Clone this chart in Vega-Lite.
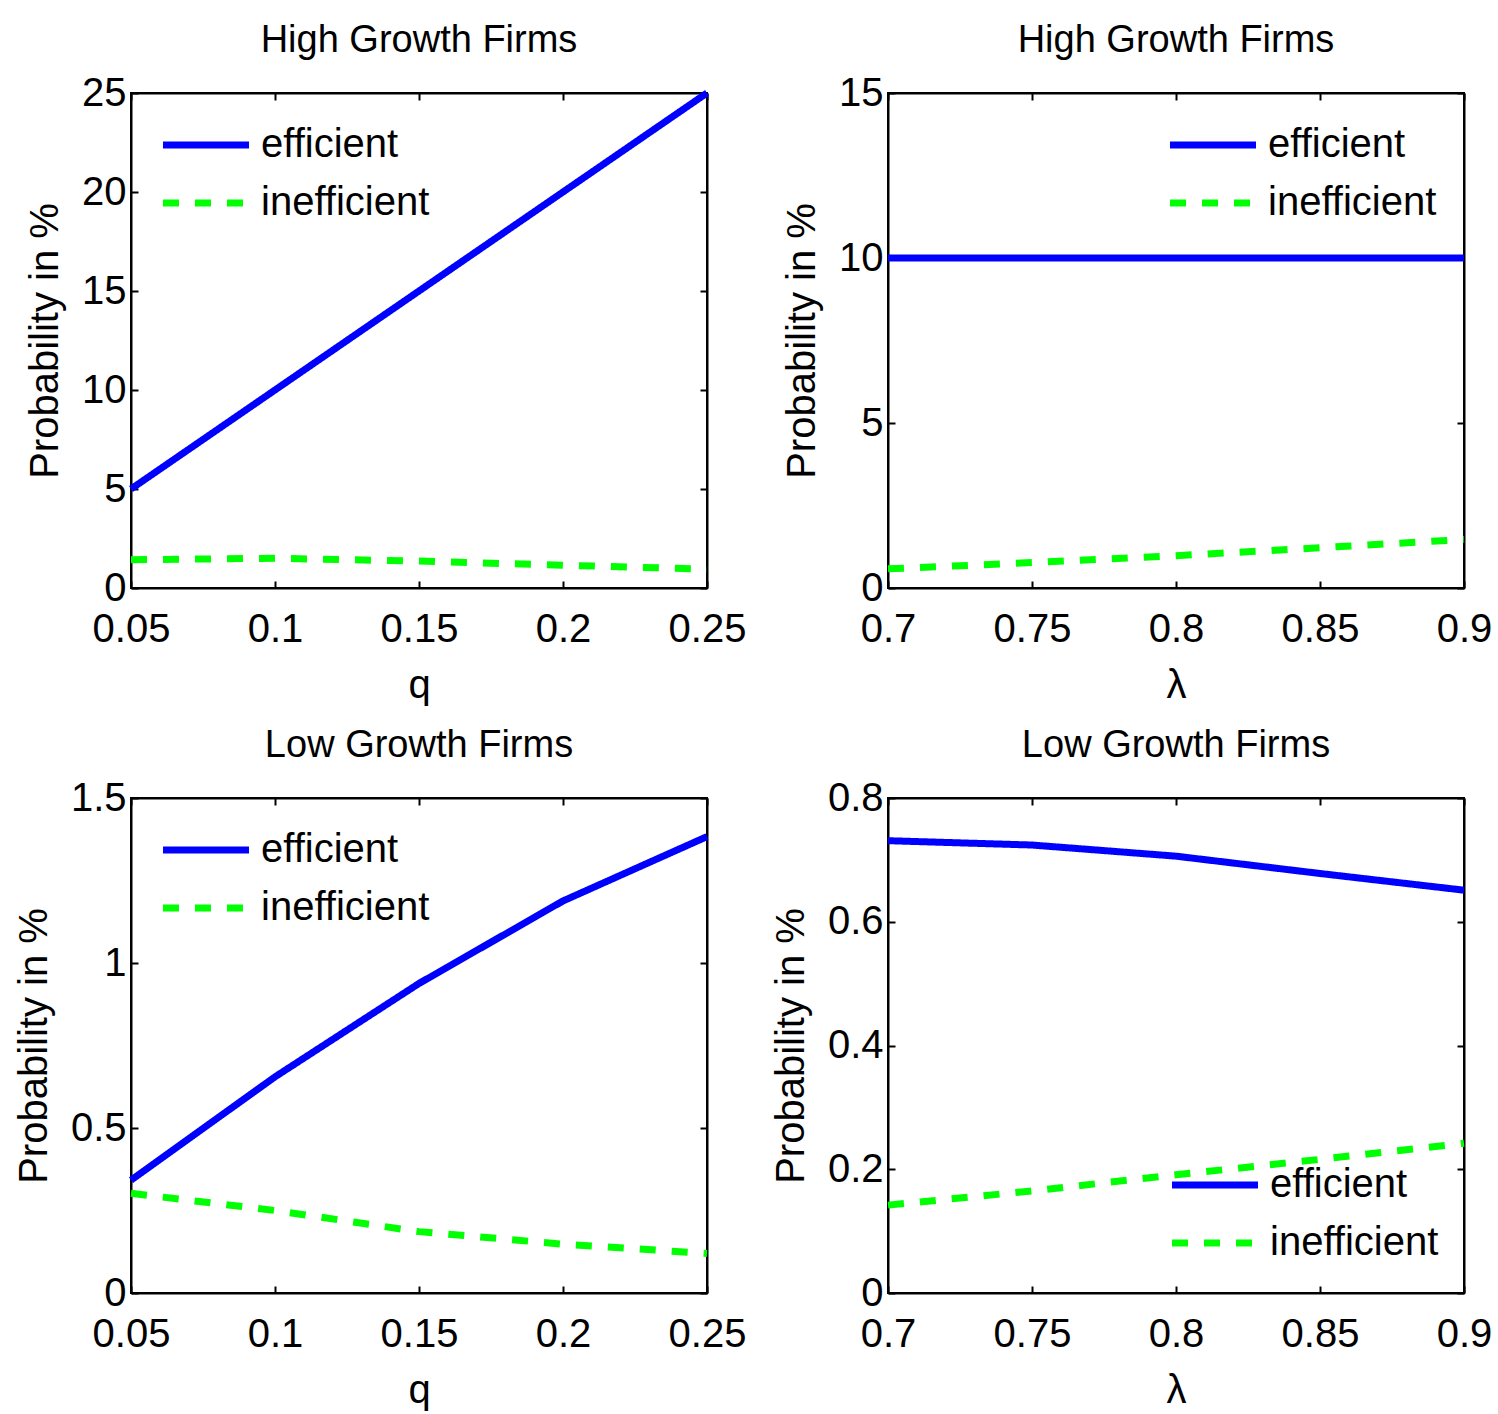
{
  "$schema": "https://vega.github.io/schema/vega-lite/v6.json",
  "background": "white",
  "padding": {"left": 13, "top": 21, "right": 5, "bottom": 5},
  "datasets": {
    "d": [
      {"panel": "A", "x": 0.05, "series": "efficient", "value": 5},
      {"panel": "A", "x": 0.10, "series": "efficient", "value": 10},
      {"panel": "A", "x": 0.15, "series": "efficient", "value": 15},
      {"panel": "A", "x": 0.20, "series": "efficient", "value": 20},
      {"panel": "A", "x": 0.25, "series": "efficient", "value": 25},
      {"panel": "A", "x": 0.05, "series": "inefficient", "value": 1.43},
      {"panel": "A", "x": 0.10, "series": "inefficient", "value": 1.50},
      {"panel": "A", "x": 0.15, "series": "inefficient", "value": 1.36},
      {"panel": "A", "x": 0.20, "series": "inefficient", "value": 1.15},
      {"panel": "A", "x": 0.25, "series": "inefficient", "value": 0.95},
      {"panel": "B", "x": 0.70, "series": "efficient", "value": 10},
      {"panel": "B", "x": 0.75, "series": "efficient", "value": 10},
      {"panel": "B", "x": 0.80, "series": "efficient", "value": 10},
      {"panel": "B", "x": 0.85, "series": "efficient", "value": 10},
      {"panel": "B", "x": 0.90, "series": "efficient", "value": 10},
      {"panel": "B", "x": 0.70, "series": "inefficient", "value": 0.58},
      {"panel": "B", "x": 0.75, "series": "inefficient", "value": 0.77},
      {"panel": "B", "x": 0.80, "series": "inefficient", "value": 0.98},
      {"panel": "B", "x": 0.85, "series": "inefficient", "value": 1.22},
      {"panel": "B", "x": 0.90, "series": "inefficient", "value": 1.47},
      {"panel": "C", "x": 0.05, "series": "efficient", "value": 0.342},
      {"panel": "C", "x": 0.10, "series": "efficient", "value": 0.655},
      {"panel": "C", "x": 0.15, "series": "efficient", "value": 0.938},
      {"panel": "C", "x": 0.20, "series": "efficient", "value": 1.188},
      {"panel": "C", "x": 0.25, "series": "efficient", "value": 1.383},
      {"panel": "C", "x": 0.05, "series": "inefficient", "value": 0.302},
      {"panel": "C", "x": 0.10, "series": "inefficient", "value": 0.25},
      {"panel": "C", "x": 0.15, "series": "inefficient", "value": 0.186},
      {"panel": "C", "x": 0.20, "series": "inefficient", "value": 0.148},
      {"panel": "C", "x": 0.25, "series": "inefficient", "value": 0.12},
      {"panel": "D", "x": 0.70, "series": "efficient", "value": 0.731},
      {"panel": "D", "x": 0.75, "series": "efficient", "value": 0.724},
      {"panel": "D", "x": 0.80, "series": "efficient", "value": 0.706},
      {"panel": "D", "x": 0.85, "series": "efficient", "value": 0.678},
      {"panel": "D", "x": 0.90, "series": "efficient", "value": 0.651},
      {"panel": "D", "x": 0.70, "series": "inefficient", "value": 0.142},
      {"panel": "D", "x": 0.75, "series": "inefficient", "value": 0.165},
      {"panel": "D", "x": 0.80, "series": "inefficient", "value": 0.191},
      {"panel": "D", "x": 0.85, "series": "inefficient", "value": 0.216},
      {"panel": "D", "x": 0.90, "series": "inefficient", "value": 0.242}
    ]
  },
  "data": {"name": "d"},
  "columns": 2,
  "spacing": {"column": 23, "row": 20},
  "resolve": {
    "scale": {"color": "independent", "strokeDash": "independent"},
    "legend": {"color": "independent", "strokeDash": "independent"}
  },
  "concat": [
    {
      "width": 576, "height": 495,
      "title": "High Growth Firms",
      "transform": [{"filter": "datum.panel === 'A'"}],
      "layer": [
        {
          "mark": {"type": "line", "strokeWidth": 7},
          "encoding": {
            "x": {"field": "x", "type": "quantitative", "scale": {"domain": [0.05, 0.25], "nice": false, "zero": false},
                  "axis": {"values": [0.05, 0.1, 0.15, 0.2, 0.25], "format": "~g", "title": "q", "labelPadding": 28}},
            "y": {"field": "value", "type": "quantitative", "scale": {"domain": [0, 25], "nice": false},
                  "axis": {"values": [0, 5, 10, 15, 20, 25], "title": "Probability in %"}},
            "color": {"field": "series", "type": "nominal", "scale": {"domain": ["efficient", "inefficient"], "range": ["#0000ff", "#00ff00"]},
                      "legend": {"orient": "top-left", "offset": 27}},
            "strokeDash": {"field": "series", "type": "nominal", "scale": {"domain": ["efficient", "inefficient"], "range": [[1, 0], [16, 16]]},
                      "legend": {"orient": "top-left", "offset": 27}}
          }
        },
        {
          "mark": {"type": "line", "opacity": 0},
          "encoding": {
            "x": {"field": "x", "type": "quantitative", "axis": {"orient": "top", "values": [0.05, 0.1, 0.15, 0.2, 0.25], "labels": false, "title": null}},
            "y": {"field": "value", "type": "quantitative", "axis": {"orient": "right", "values": [0, 5, 10, 15, 20, 25], "labels": false, "title": null}}
          }
        }
      ],
      "resolve": {"axis": {"x": "independent", "y": "independent"}}
    },
    {
      "width": 576, "height": 495,
      "title": "High Growth Firms",
      "transform": [{"filter": "datum.panel === 'B'"}],
      "layer": [
        {
          "mark": {"type": "line", "strokeWidth": 7},
          "encoding": {
            "x": {"field": "x", "type": "quantitative", "scale": {"domain": [0.7, 0.9], "nice": false, "zero": false},
                  "axis": {"values": [0.7, 0.75, 0.8, 0.85, 0.9], "format": "~g", "title": "λ", "labelPadding": 28}},
            "y": {"field": "value", "type": "quantitative", "scale": {"domain": [0, 15], "nice": false},
                  "axis": {"values": [0, 5, 10, 15], "title": "Probability in %"}},
            "color": {"field": "series", "type": "nominal", "scale": {"domain": ["efficient", "inefficient"], "range": ["#0000ff", "#00ff00"]},
                      "legend": {"orient": "top-right", "offset": 27}},
            "strokeDash": {"field": "series", "type": "nominal", "scale": {"domain": ["efficient", "inefficient"], "range": [[1, 0], [16, 16]]},
                      "legend": {"orient": "top-right", "offset": 27}}
          }
        },
        {
          "mark": {"type": "line", "opacity": 0},
          "encoding": {
            "x": {"field": "x", "type": "quantitative", "axis": {"orient": "top", "values": [0.7, 0.75, 0.8, 0.85, 0.9], "labels": false, "title": null}},
            "y": {"field": "value", "type": "quantitative", "axis": {"orient": "right", "values": [0, 5, 10, 15], "labels": false, "title": null}}
          }
        }
      ],
      "resolve": {"axis": {"x": "independent", "y": "independent"}}
    },
    {
      "width": 576, "height": 495,
      "title": "Low Growth Firms",
      "transform": [{"filter": "datum.panel === 'C'"}],
      "layer": [
        {
          "mark": {"type": "line", "strokeWidth": 7},
          "encoding": {
            "x": {"field": "x", "type": "quantitative", "scale": {"domain": [0.05, 0.25], "nice": false, "zero": false},
                  "axis": {"values": [0.05, 0.1, 0.15, 0.2, 0.25], "format": "~g", "title": "q", "labelPadding": 28}},
            "y": {"field": "value", "type": "quantitative", "scale": {"domain": [0, 1.5], "nice": false},
                  "axis": {"values": [0, 0.5, 1, 1.5], "format": "~g", "title": "Probability in %"}},
            "color": {"field": "series", "type": "nominal", "scale": {"domain": ["efficient", "inefficient"], "range": ["#0000ff", "#00ff00"]},
                      "legend": {"orient": "top-left", "offset": 27}},
            "strokeDash": {"field": "series", "type": "nominal", "scale": {"domain": ["efficient", "inefficient"], "range": [[1, 0], [16, 16]]},
                      "legend": {"orient": "top-left", "offset": 27}}
          }
        },
        {
          "mark": {"type": "line", "opacity": 0},
          "encoding": {
            "x": {"field": "x", "type": "quantitative", "axis": {"orient": "top", "values": [0.05, 0.1, 0.15, 0.2, 0.25], "labels": false, "title": null}},
            "y": {"field": "value", "type": "quantitative", "axis": {"orient": "right", "values": [0, 0.5, 1, 1.5], "labels": false, "title": null}}
          }
        }
      ],
      "resolve": {"axis": {"x": "independent", "y": "independent"}}
    },
    {
      "width": 576, "height": 495,
      "title": "Low Growth Firms",
      "transform": [{"filter": "datum.panel === 'D'"}],
      "layer": [
        {
          "mark": {"type": "line", "strokeWidth": 7},
          "encoding": {
            "x": {"field": "x", "type": "quantitative", "scale": {"domain": [0.7, 0.9], "nice": false, "zero": false},
                  "axis": {"values": [0.7, 0.75, 0.8, 0.85, 0.9], "format": "~g", "title": "λ", "labelPadding": 28}},
            "y": {"field": "value", "type": "quantitative", "scale": {"domain": [0, 0.8], "nice": false},
                  "axis": {"values": [0, 0.2, 0.4, 0.6, 0.8], "format": "~g", "title": "Probability in %"}},
            "color": {"field": "series", "type": "nominal", "scale": {"domain": ["efficient", "inefficient"], "range": ["#0000ff", "#00ff00"]},
                      "legend": {"orient": "bottom-right", "offset": 25}},
            "strokeDash": {"field": "series", "type": "nominal", "scale": {"domain": ["efficient", "inefficient"], "range": [[1, 0], [16, 16]]},
                      "legend": {"orient": "bottom-right", "offset": 25}}
          }
        },
        {
          "mark": {"type": "line", "opacity": 0},
          "encoding": {
            "x": {"field": "x", "type": "quantitative", "axis": {"orient": "top", "values": [0.7, 0.75, 0.8, 0.85, 0.9], "labels": false, "title": null}},
            "y": {"field": "value", "type": "quantitative", "axis": {"orient": "right", "values": [0, 0.2, 0.4, 0.6, 0.8], "labels": false, "title": null}}
          }
        }
      ],
      "resolve": {"axis": {"x": "independent", "y": "independent"}}
    }
  ],
  "config": {
    "font": "Liberation Sans",
    "view": {"stroke": "black", "strokeWidth": 2},
    "title": {"fontSize": 38, "fontWeight": "normal", "color": "black", "offset": 13, "font": "Liberation Sans"},
    "axis": {
      "grid": false,
      "domainColor": "black", "domainWidth": 2,
      "tickColor": "black", "tickWidth": 2, "tickSize": -7,
      "labelFont": "Liberation Sans", "labelFontSize": 40, "labelColor": "black", "labelPadding": 12,
      "labelFlush": false, "labelOverlap": false, "labelBound": false,
      "titleFont": "Liberation Sans", "titleFontSize": 40, "titleFontWeight": "normal", "titleColor": "black", "titlePadding": 16
    },
    "legend": {
      "title": null,
      "symbolType": "stroke", "symbolSize": 7400, "symbolStrokeWidth": 7, "symbolOffset": 1,
      "clipHeight": 50,
      "labelFont": "Liberation Sans", "labelFontSize": 40, "labelColor": "black", "labelLimit": 400,
      "padding": 0, "rowPadding": 8, "labelOffset": 8
    }
  }
}
